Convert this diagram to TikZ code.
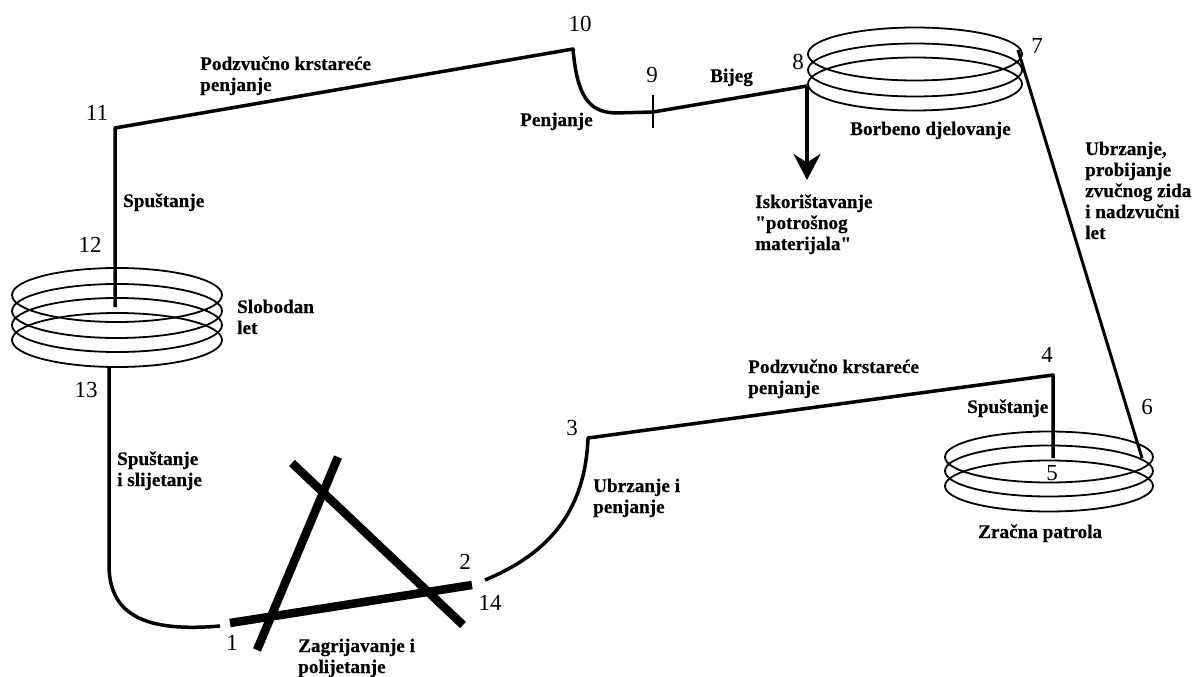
\documentclass[tikz,border=0pt]{standalone}
\usepackage{fontspec}
\setmainfont{Liberation Serif}
\newfontfamily\lblfont{Liberation Serif}[BoldFeatures={FakeBold=0.4}]
\usetikzlibrary{arrows.meta}
\begin{document}
\begin{tikzpicture}[x=1pt,y=-1pt,
  lbl/.style={anchor=base west,align=left,inner sep=0pt,font=\lblfont\fontsize{19.2}{21}\selectfont\bfseries},
  num/.style={inner sep=0pt,font=\fontsize{23}{23}\selectfont},
  route/.style={line width=3.5pt,line join=round},
  coil/.style={line width=1.8pt},
  runway/.style={line width=8.5pt}]
\useasboundingbox (0,0) rectangle (1200,677);
% waypoints
\coordinate (p1) at (220,626);
\coordinate (p14) at (485,580);
\coordinate (p3) at (588,438);
\coordinate (p4) at (1053,375);
\coordinate (p5) at (1053,458);
\coordinate (p6) at (1142,458);
\coordinate (p7) at (1018,50);
\coordinate (p8) at (807,86);
\coordinate (p9) at (653,112);
\coordinate (p10) at (573,49);
\coordinate (p11) at (115,128);
\coordinate (p12) at (115,307);
\coordinate (p13) at (109,368);
\coordinate (t9a) at (653,95);
\coordinate (t9b) at (653,128);
\coordinate (ex) at (807,180);
% coils
\foreach \cy in {54,70,84} \draw[coil] (915,\cy) ellipse [x radius=107pt, y radius=26.5pt];
\foreach \cy in {295,311,325,340} \draw[coil] (117,\cy) ellipse [x radius=105pt, y radius=27pt];
\foreach \cy in {457,471,486} \draw[coil] (1049,\cy) ellipse [x radius=104pt, y radius=25.5pt];
% runway
\coordinate (ra) at (230,623); \coordinate (rb) at (472,585);
\coordinate (rc) at (257,650); \coordinate (rd) at (338,457);
\coordinate (re) at (292,463); \coordinate (rf) at (463,625);
\draw[runway] (ra) -- (rb);
\draw[runway] (rc) -- (rd);
\draw[runway] (re) -- (rf);
% route
\draw[route] (p13) -- (109,565) .. controls (109,618) and (150,632) .. (p1);
\draw[route] (p14) .. controls (545,555) and (585,515) .. (p3) -- (p4) -- (p5);
\draw[line width=3pt] (p7) -- (p6);
\draw[route] (p8) -- (p9) -- (615,113) .. controls (588,112) and (577,95) .. (p10) -- (p11) -- (p12);
\draw[line width=2pt] (t9a) -- (t9b);
\draw[line width=4pt,-{Stealth[length=26pt,width=27pt]}] (p8) -- (ex);
% numbers
\node[num] (n1) at (232,643) {1};
\node[num] (n2) at (465,562) {2};
\node[num] (n14) at (490,603) {14};
\node[num] (n3) at (572,428) {3};
\node[num] (n4) at (1047,355) {4};
\node[num] (n5) at (1052,473) {5};
\node[num] (n6) at (1147,407) {6};
\node[num] (n7) at (1037,46) {7};
\node[num] (n8) at (798,62) {8};
\node[num] (n9) at (652,75) {9};
\node[num] (n10) at (580,24) {10};
\node[num] (n11) at (97,113) {11};
\node[num] (n12) at (90,245) {12};
\node[num] (n13) at (86,390) {13};
% labels (anchor = baseline of last line)
\node[lbl] (l1) at (200,91) {Podzvučno krstareće\\penjanje};
\node[lbl] (l2) at (123,207) {Spuštanje};
\node[lbl] (l3) at (520,126) {Penjanje};
\node[lbl] (l4) at (710,82) {Bijeg};
\node[lbl] (l5) at (850,135) {Borbeno djelovanje};
\node[lbl] (l6) at (755,250) {Iskorištavanje\\"potrošnog\\materijala"};
\node[lbl] (l7) at (1085,239) {Ubrzanje,\\probijanje\\zvučnog zida\\i nadzvučni\\let};
\node[lbl] (l8) at (237,334) {Slobodan\\let};
\node[lbl] (l9) at (117,486) {Spuštanje\\i slijetanje};
\node[lbl] (l10) at (298,673) {Zagrijavanje i\\polijetanje};
\node[lbl] (l11) at (593,513) {Ubrzanje i\\penjanje};
\node[lbl] (l12) at (748,394) {Podzvučno krstareće\\penjanje};
\node[lbl] (l13) at (967,413) {Spuštanje};
\node[lbl] (l14) at (978,538) {Zračna patrola};
\end{tikzpicture}
\end{document}
